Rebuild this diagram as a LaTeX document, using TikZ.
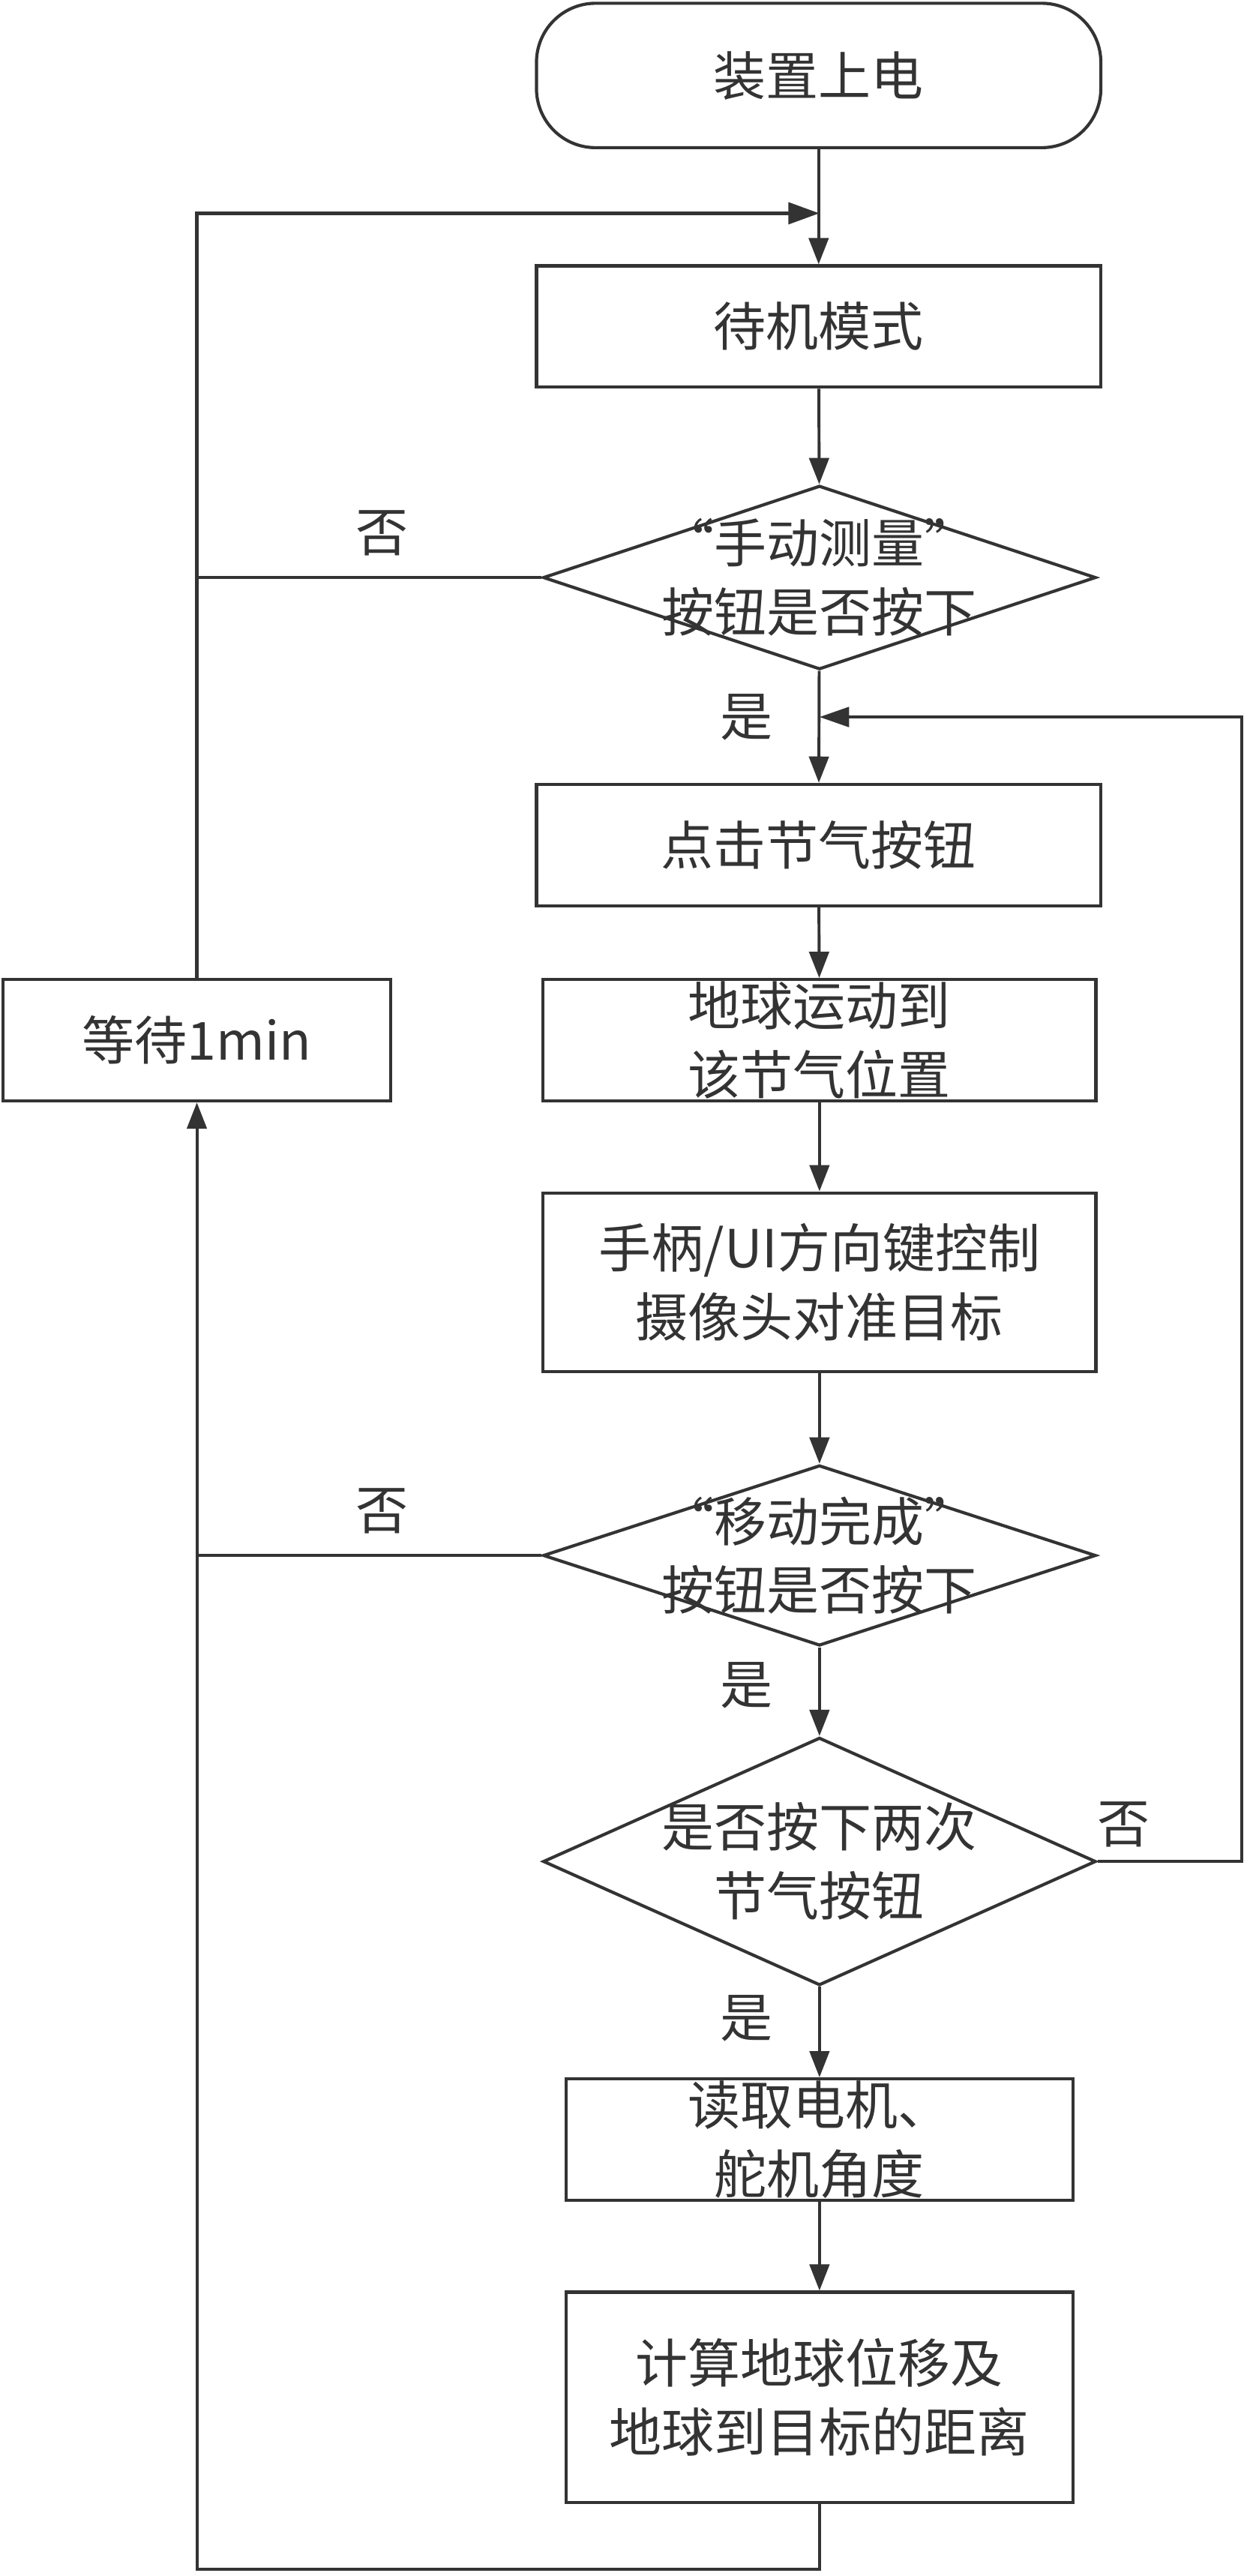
\documentclass[tikz,border=0pt]{standalone}
\usepackage{fontspec}
\setmainfont{Noto Sans CJK SC}
\usetikzlibrary{arrows.meta,shapes.geometric}
\definecolor{ink}{HTML}{333333}

\tikzset{
  term/.style={draw, line width=1.9pt, rounded corners=36pt, inner sep=0pt,
    minimum width=344pt, minimum height=88pt},
  box/.style={draw, line width=1.9pt, rectangle, inner sep=0pt, align=center},
  decision/.style={draw, line width=1.9pt, diamond, inner sep=0pt},
  dtext/.style={align=center, inner sep=0pt}
}

\begin{document}
\begin{tikzpicture}[x=1pt, y=-1pt, line width=1.8pt, color=ink,
    font=\fontsize{32}{42}\selectfont,
    >={Triangle[length=16pt,width=12pt]}]
	\useasboundingbox (0,0) rectangle (760,1570);

	% 流程框
	\node[term] (start) at (499,46) {装置上电};
	\node[box, minimum width=344pt, minimum height=74pt] (standby) at (499,199) {待机模式};
	\node[decision, minimum width=337pt, minimum height=112pt] (d1) at (499.5,352) {};
	\node[dtext] (d1t) at (d1) {“手动测量”\\按钮是否按下};
	\node[box, minimum width=344pt, minimum height=74pt] (click) at (499,515) {点击节气按钮};
	\node[box, minimum width=337pt, minimum height=74pt] (move) at (499.5,634) {地球运动到\\该节气位置};
	\node[box, minimum width=236pt, minimum height=74pt] (wait) at (120,634) {等待1min};
	\node[box, minimum width=337pt, minimum height=109pt] (ctrl) at (499.5,781.5) {手柄/UI方向键控制\\摄像头对准目标};
	\node[decision, minimum width=337pt, minimum height=110pt] (d2) at (499.5,948) {};
	\node[dtext] (d2t) at (d2) {“移动完成”\\按钮是否按下};
	\node[decision, minimum width=337pt, minimum height=151pt] (d3) at (499.5,1134.5) {};
	\node[dtext] (d3t) at (d3) {是否按下两次\\节气按钮};
	\node[box, minimum width=309pt, minimum height=74pt] (read) at (499.5,1304) {读取电机、\\舵机角度};
	\node[box, minimum width=309pt, minimum height=128pt] (calc) at (499.5,1461) {计算地球位移及\\地球到目标的距离};

	% 转折点
	\coordinate (top) at (499.5,130);
	\coordinate (back) at (499.5,437);
	\coordinate (rt) at (757,437);
	\coordinate (bot) at (120,1566);

	% 连线
	\draw[->] (start) -- (standby);
	\draw[->] (standby) -- (d1);
	\draw[->] (d1) -- (click);
	\draw[->] (click) -- (move);
	\draw[->] (move) -- (ctrl);
	\draw[->] (ctrl) -- (d2);
	\draw[->] (d2) -- (d3);
	\draw[->] (d3) -- (read);
	\draw[->] (read) -- (calc);

	\draw[->, line width=2.4pt, >={Triangle[length=19pt,width=13pt]}] (wait.north) |- (top); % 回到待机
	\draw (d1.west) -- (d1.west -| wait.north);
	\draw (d2.west) -- (d2.west -| wait.south);
	\draw[->] (calc.south) |- (bot) -- (wait.south);
	\draw[->, >={Triangle[length=18pt,width=12pt]}] (d3.east) -| (rt) -- (back);

	% 是/否
	\node (no1) at (233,325) {否};
	\node (yes1) at (455,437) {是};
	\node (no2) at (233,921) {否};
	\node (yes2) at (455,1027) {是};
	\node (no3) at (685,1112) {否};
	\node (yes3) at (455,1230) {是};
\end{tikzpicture}
\end{document}
